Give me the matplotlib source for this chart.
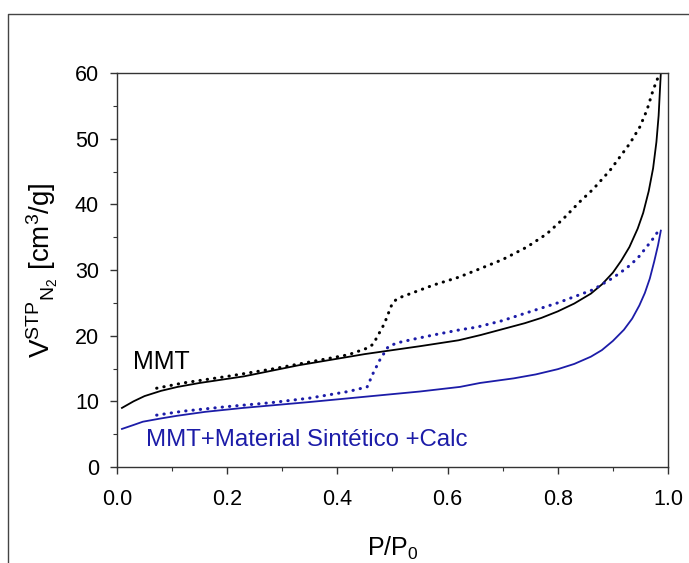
import matplotlib
matplotlib.use("Agg")
import matplotlib.pyplot as plt
from matplotlib.lines import Line2D
from matplotlib.ticker import MultipleLocator, FormatStrFormatter

plt.rcParams['font.family'] = ['Liberation Sans', 'DejaVu Sans']
plt.rcParams['mathtext.fontset'] = 'custom'
plt.rcParams['mathtext.rm'] = 'Liberation Sans'
plt.rcParams['mathtext.it'] = 'Liberation Sans'

# MMT: adsorption (solid) and desorption (dotted)
mmt_ads_x = [0.009, 0.03, 0.05, 0.08, 0.11, 0.15, 0.23, 0.33, 0.45, 0.55, 0.62, 0.66,
             0.74, 0.77, 0.80, 0.83, 0.86, 0.88, 0.90, 0.915, 0.93, 0.945, 0.955,
             0.965, 0.973, 0.979, 0.983, 0.987]
mmt_ads_y = [9.0, 10.0, 10.8, 11.6, 12.2, 12.8, 13.8, 15.5, 17.2, 18.4, 19.3, 20.1,
             21.9, 22.7, 23.7, 24.9, 26.4, 27.8, 29.6, 31.4, 33.5, 36.3, 38.7,
             42.0, 45.5, 49.5, 53.5, 60.0]
mmt_des_x = [0.072, 0.12, 0.2, 0.28, 0.35, 0.42, 0.454, 0.465, 0.472, 0.482, 0.49, 0.496,
             0.501, 0.51, 0.526, 0.574, 0.62, 0.653, 0.70, 0.744, 0.78, 0.81, 0.84, 0.864,
             0.895, 0.931, 0.949, 0.962, 0.973, 0.985]
mmt_des_y = [12.0, 12.8, 13.8, 14.9, 16.0, 17.1, 18.1, 18.7, 19.8, 21.3, 22.8, 24.2,
             25.1, 25.7, 26.2, 27.7, 28.9, 30.0, 31.6, 33.5, 35.5, 37.8, 40.4, 42.3,
             45.2, 49.3, 51.8, 54.4, 57.4, 60.0]

# MMT + synthetic material + calcination
mix_ads_x = [0.009, 0.03, 0.047, 0.08, 0.109, 0.16, 0.229, 0.35, 0.45, 0.55, 0.6225, 0.659,
             0.72, 0.76, 0.80, 0.83, 0.86, 0.88, 0.90, 0.92, 0.935, 0.948, 0.958,
             0.967, 0.975, 0.982, 0.987]
mix_ads_y = [5.8, 6.4, 6.9, 7.4, 7.8, 8.4, 9.0, 9.9, 10.7, 11.5, 12.2, 12.8,
             13.5, 14.1, 14.9, 15.7, 16.8, 17.8, 19.2, 20.9, 22.6, 24.6, 26.5,
             28.7, 31.3, 33.8, 36.0]
mix_des_x = [0.072, 0.12, 0.2, 0.28, 0.35, 0.42, 0.454, 0.465, 0.477, 0.492, 0.508, 0.54,
             0.574, 0.6225, 0.653, 0.70, 0.744, 0.80, 0.864, 0.90, 0.925, 0.945, 0.962,
             0.975, 0.985]
mix_des_y = [7.9, 8.5, 9.2, 9.8, 10.5, 11.5, 12.2, 14.3, 16.3, 18.3, 18.9, 19.5,
             20.1, 20.9, 21.3, 22.3, 23.5, 25.0, 27.0, 28.8, 30.3, 31.8, 33.6,
             35.0, 36.3]

BLUE = '#1c1ca8'
dots = (0, (0.1, 2.3))

fig = plt.figure(figsize=(6.89, 5.63), dpi=100)
ax = fig.add_axes([0.1698, 0.1705, 0.7997, 0.6998])

ax.plot(mmt_ads_x, mmt_ads_y, color='black', lw=1.3)
ax.plot(mmt_des_x, mmt_des_y, color='black', lw=2.2, linestyle=dots,
        dash_capstyle='round')
ax.plot(mix_ads_x, mix_ads_y, color=BLUE, lw=1.3)
ax.plot(mix_des_x, mix_des_y, color=BLUE, lw=2.2, linestyle=dots,
        dash_capstyle='round')

ax.text(0.029, 16.0, 'MMT', fontsize=18, color='black', va='center', ha='left')
ax.text(0.053, 4.1, 'MMT+Material Sintético +Calc', fontsize=17.3, color=BLUE,
        va='center', ha='left')

ax.set_xlim(0, 1.0)
ax.set_ylim(0, 60)
ax.xaxis.set_major_locator(MultipleLocator(0.2))
ax.xaxis.set_minor_locator(MultipleLocator(0.1))
ax.yaxis.set_major_locator(MultipleLocator(10))
ax.yaxis.set_minor_locator(MultipleLocator(5))
ax.xaxis.set_major_formatter(FormatStrFormatter('%.1f'))
ax.tick_params(which='major', direction='out', length=5, width=1, labelsize=15.5,
               pad=8, color='#333333')
ax.tick_params(axis='x', which='major', pad=11)
ax.tick_params(which='minor', direction='out', length=3, width=0.8, color='#333333')
for s in ax.spines.values():
    s.set_color('#333333')
    s.set_linewidth(1.0)

ax.set_xlabel(r'P/P$_0$', fontsize=18, labelpad=18)
ax.set_ylabel(r'V$^{\mathrm{STP}}$$_{\mathrm{N_2}}$ [cm$^3$/g]', fontsize=20, labelpad=11)

# outer frame along the left and top edges
fx = 8 / 689
fy = 1 - 14 / 563
fig.add_artist(Line2D([fx, fx, 1.0], [0.0, fy, fy], transform=fig.transFigure,
                      color='#444444', lw=1.0))

fig.savefig('out.png', dpi=100)
